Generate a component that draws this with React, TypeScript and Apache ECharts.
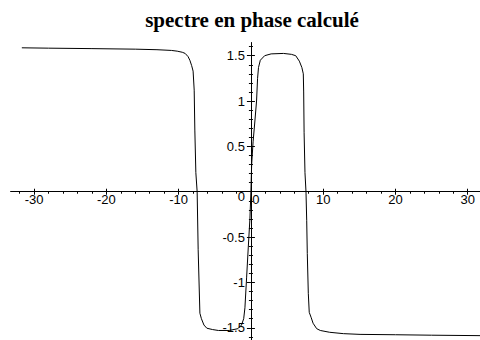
import { useEffect, useRef } from "react";
import * as echarts from "echarts";

const chartTitle = "spectre en phase calculé";

// fréquence (axe horizontal)
const freq = [
  -31.7, -28, -22, -16, -13, -11, -10.2, -9.5, -9.1, -8.7, -8.45, -8.2, -8.0,
  -7.85, -7.76, -7.62, -7.44, -7.3, -7.06, -6.85, -6.5, -6.1, -5.3, -4.5, -3.0,
  -1.8, -1.3, -1.0, -0.83, -0.6, -0.37, -0.14, 0, 0.1, 0.3, 0.55, 0.78, 0.92,
  1.05, 1.3, 1.9, 2.8, 4.5, 5.6, 6.2, 6.7, 7.05, 7.25, 7.3, 7.36, 7.48, 7.62,
  7.72, 7.8, 7.94, 8.07, 8.35, 8.6, 9.1, 9.6, 10.9, 12.8, 15.1, 20, 25, 31.7,
];

// phase calculée (radians)
const phase = [
  1.587, 1.583, 1.578, 1.572, 1.566, 1.558, 1.55, 1.538, 1.525, 1.49, 1.45,
  1.39, 1.33, 1.12, 0.68, 0.21, 0.0, -0.64, -1.34, -1.4, -1.47, -1.505, -1.52,
  -1.53, -1.53, -1.51, -1.47, -1.4, -1.28, -0.95, -0.62, -0.3, 0, 0.3, 0.55,
  0.78, 1.0, 1.25, 1.37, 1.45, 1.5, 1.52, 1.525, 1.515, 1.5, 1.44, 1.37, 1.3,
  1.1, 0.65, 0.21, 0, -0.32, -0.68, -1.12, -1.33, -1.39, -1.45, -1.51, -1.53,
  -1.55, -1.565, -1.573, -1.577, -1.582, -1.587,
];

const xMajor = [-30, -20, -10, 0, 10, 20, 30];
const xMinor = [
  -32, -28, -26, -24, -22, -18, -16, -14, -12, -8, -6, -4, -2, 2, 4, 6, 8, 12,
  14, 16, 18, 22, 24, 26, 28,
];
const yMajor = [-1.5, -1, -0.5, 0, 0.5, 1, 1.5];
const yMinor = [
  -1.6, -1.4, -1.3, -1.2, -1.1, -0.9, -0.8, -0.7, -0.6, -0.4, -0.3, -0.2, -0.1,
  0.1, 0.2, 0.3, 0.4, 0.6, 0.7, 0.8, 0.9, 1.1, 1.2, 1.3, 1.4, 1.6,
];

const X_MIN = -33.2;
const X_MAX = 31.7;
const Y_MIN = -1.635;
const Y_MAX = 1.64;

const W = 480;
const H = 340;
const GRID = { left: 11, right: 0, top: 43, bottom: 0 };

const labelFont = "Liberation Sans, Arial, sans-serif";
const black = "#000";

function App() {
  const ref = useRef<HTMLDivElement>(null);

  useEffect(() => {
    if (!ref.current) return;
    const chart = echarts.init(ref.current, null, { renderer: "svg" });

    // distance between the grid edges and the lines x = 0 / y = 0,
    // used to carry the tick labels onto the crossing axes
    const gridW = W - GRID.left - GRID.right;
    const gridH = H - GRID.top - GRID.bottom;
    const zeroFromLeft = (gridW * (0 - X_MIN)) / (X_MAX - X_MIN);
    const zeroFromBottom = (gridH * (0 - Y_MIN)) / (Y_MAX - Y_MIN);

    const lineAxis = {
      type: "value" as const,
      splitLine: { show: false },
      axisLine: { onZero: true, onZeroAxisIndex: 0, lineStyle: { color: black, width: 1 } },
      axisLabel: { show: false },
    };

    const labelAxis = {
      type: "value" as const,
      splitLine: { show: false },
      axisLine: { show: false, onZero: false },
      axisTick: { show: false },
    };

    const xAxis = [
      // labels only, shifted up onto y = 0
      {
        ...labelAxis,
        min: X_MIN,
        max: X_MAX,
        position: "bottom",
        offset: -zeroFromBottom,
        axisLabel: {
          customValues: xMajor,
          color: black,
          fontFamily: labelFont,
          fontSize: 13,
          margin: 1,
          formatter: (v: number) => (v === 0 ? "{z|0}" : String(v)),
          rich: { z: { padding: [0, 0, 0, 10], color: black, fontFamily: labelFont, fontSize: 13 } },
        },
      },
      // axis line and major ticks crossing it
      {
        ...lineAxis,
        min: X_MIN,
        max: X_MAX,
        position: "bottom",
        axisTick: { customValues: xMajor, length: 3, lineStyle: { color: black } },
      },
      {
        ...lineAxis,
        min: X_MIN,
        max: X_MAX,
        position: "top",
        axisTick: { customValues: xMajor, length: 3, lineStyle: { color: black } },
      },
      // minor ticks
      {
        ...lineAxis,
        min: X_MIN,
        max: X_MAX,
        position: "bottom",
        axisTick: { customValues: xMinor, length: 2, lineStyle: { color: black } },
      },
    ];

    const yAxis = [
      {
        ...labelAxis,
        min: Y_MIN,
        max: Y_MAX,
        position: "left",
        offset: -zeroFromLeft,
        axisLabel: {
          customValues: yMajor,
          color: black,
          fontFamily: labelFont,
          fontSize: 13,
          margin: 6,
          formatter: (v: number) => (v === 0 ? "{z|0}" : String(v)),
          rich: { z: { padding: [10, 0, 0, 0], color: black, fontFamily: labelFont, fontSize: 13 } },
        },
      },
      {
        ...lineAxis,
        min: Y_MIN,
        max: Y_MAX,
        position: "left",
        axisTick: { customValues: yMajor, length: 4, lineStyle: { color: black } },
      },
      {
        ...lineAxis,
        min: Y_MIN,
        max: Y_MAX,
        position: "right",
        axisTick: { customValues: yMajor, length: 4, lineStyle: { color: black } },
      },
      {
        ...lineAxis,
        min: Y_MIN,
        max: Y_MAX,
        position: "left",
        axisTick: { customValues: yMinor, length: 2, lineStyle: { color: black } },
      },
      {
        ...lineAxis,
        min: Y_MIN,
        max: Y_MAX,
        position: "right",
        axisTick: { customValues: yMinor, length: 2, lineStyle: { color: black } },
      },
    ];

    chart.setOption({
      animation: false,
      backgroundColor: "#fff",
      grid: { ...GRID, containLabel: false, outerBoundsMode: "none" },
      graphic: [
        {
          type: "text",
          x: 252,
          y: 9,
          style: {
            text: chartTitle,
            textAlign: "center",
            textVerticalAlign: "top",
            font: "bold 21px 'Liberation Serif', 'Times New Roman', serif",
            fill: black,
          },
        },
      ],
      xAxis,
      yAxis,
      series: [
        {
          type: "line",
          xAxisIndex: 0,
          yAxisIndex: 0,
          data: freq.map((f, i) => [f, phase[i]]),
          showSymbol: false,
          symbol: "none",
          lineStyle: { color: black, width: 1 },
          z: 1,
        },
      ],
    });

    return () => chart.dispose();
  }, []);

  return (
    <div
      ref={ref}
      style={{ position: "absolute", left: 0, top: 0, width: W, height: H }}
    />
  );
}

export default App;
